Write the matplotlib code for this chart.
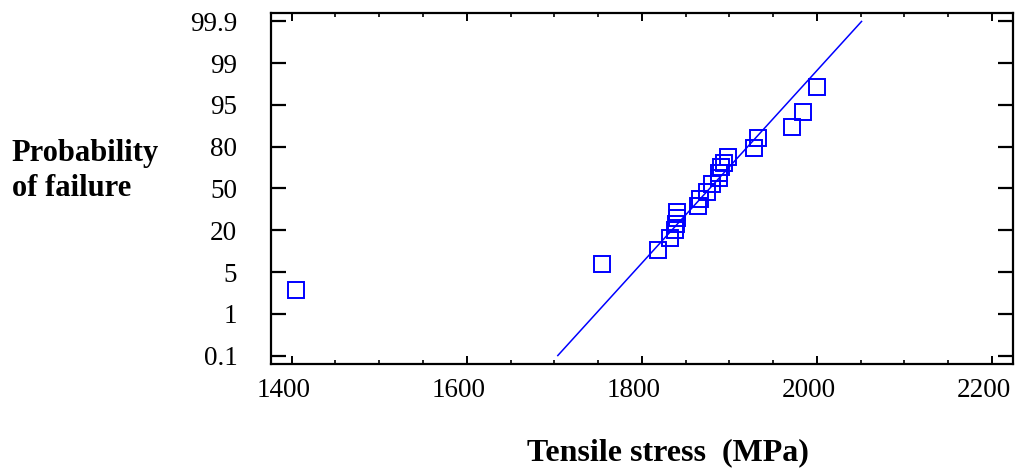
import matplotlib
matplotlib.use("Agg")
import matplotlib.pyplot as plt
import matplotlib.transforms as mtransforms
import numpy as np
from matplotlib.ticker import MultipleLocator

# probability paper: tick probabilities are placed at equal steps
prob_ticks = [0.1, 1, 5, 20, 50, 80, 95, 99, 99.9]
prob_labels = ['0.1', '1', '5', '20', '50', '80', '95', '99', '99.9']
stress_ticks = [1400, 1600, 1800, 2000, 2200]

# measured tensile strengths (MPa) and their failure probabilities (%)
stress = [1405, 1754.5, 1819, 1832, 1837.5, 1838.5, 1840, 1840,
          1864.5, 1866, 1875, 1880, 1888, 1888.5, 1891, 1893.5, 1899,
          1928, 1933, 1971, 1984, 2000]
prob = [3.3, 7.7, 12.8, 17.2, 20.0, 24.5, 28.7, 32.9,
        37.7, 42.2, 47.6, 53.0, 57.2, 60.8, 65.3, 68.6, 72.8,
        79.4, 83.0, 87.2, 92.3, 96.7]

# fitted distribution line
fit_stress = [1704, 2051]
fit_prob = [0.1, 99.9]

P = np.array(prob_ticks, float)
IDX = np.arange(len(P), dtype=float)


def prob_to_pos(p):
    p = np.asarray(p, float)
    out = np.interp(p, P, IDX)
    out = np.where(p < P[0], (p - P[0]) / (P[1] - P[0]), out)
    out = np.where(p > P[-1], IDX[-1] + (p - P[-1]) / (P[-1] - P[-2]), out)
    return out


def pos_to_prob(y):
    y = np.asarray(y, float)
    out = np.interp(y, IDX, P)
    out = np.where(y < 0, P[0] + y * (P[1] - P[0]), out)
    out = np.where(y > IDX[-1], P[-1] + (y - IDX[-1]) * (P[-1] - P[-2]), out)
    return out


plt.rcParams['font.family'] = ['Liberation Serif', 'DejaVu Serif']

fig = plt.figure(figsize=(10.15, 4.68), dpi=100)
ax = fig.add_axes([0.2667, 0.2216, 0.7313, 0.7513])

ax.set_yscale('function', functions=(prob_to_pos, pos_to_prob))

ax.plot(fit_stress, fit_prob, color='#0000ff', lw=1.1)
ax.plot(stress, prob, linestyle='None', marker='s', markersize=11,
        markerfacecolor='none', markeredgecolor='#0000ff', markeredgewidth=1.4)

ax.set_xlim(1376, 2224)
ax.set_ylim(pos_to_prob(-0.21), pos_to_prob(8.21))

ax.set_yticks(prob_ticks)
ax.set_yticklabels(prob_labels)
ax.yaxis.set_minor_locator(plt.NullLocator())
ax.set_xticks(stress_ticks)
ax.xaxis.set_minor_locator(MultipleLocator(50))

for s in ax.spines.values():
    s.set_linewidth(1.6)

ax.tick_params(axis='y', which='major', direction='in', left=True, right=True,
               length=10.8, width=1.6, labelsize=19.5, pad=24)
ax.tick_params(axis='x', which='major', direction='in', top=True, bottom=True,
               length=5.8, width=1.4, labelsize=19.5, pad=10)
ax.tick_params(axis='x', which='minor', direction='in', top=True, bottom=True,
               length=3, width=1.2)

# stress labels sit slightly left of their ticks
shift = mtransforms.ScaledTranslation(-8 / 100, 0, fig.dpi_scale_trans)
for tick in ax.xaxis.get_major_ticks():
    tick.label1.set_transform(tick.label1.get_transform() + shift)

fig.text(0.0115, 0.6346, 'Probability\nof failure', fontsize=22,
         fontweight='bold', ha='left', va='center', linespacing=1.3)
fig.text(0.658, 0.032, 'Tensile stress  (MPa)', fontsize=23,
         fontweight='bold', ha='center', va='center')

fig.savefig('out.png', dpi=100)
